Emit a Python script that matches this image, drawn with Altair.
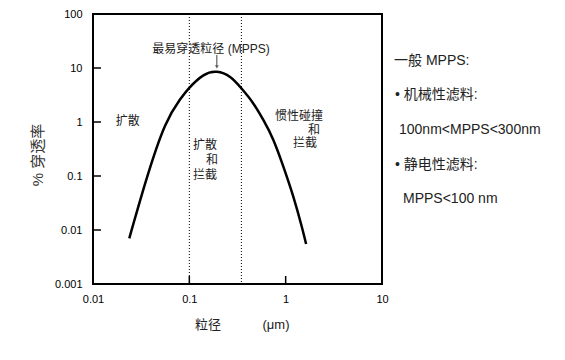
import altair as alt
import pandas as pd

# ---- data ----
size_um = [0.0238, 0.0361, 0.056, 0.080, 0.1, 0.14, 0.193, 0.265, 0.347,
           0.45, 0.586, 0.745, 0.946, 1.20, 1.47, 1.63]
penetration = [0.0070, 0.09, 0.85, 2.6, 4.3, 7.3, 8.5, 6.8, 4.2,
               2.35, 1.09, 0.464, 0.149, 0.0414, 0.0115, 0.0055]

region_bounds = [0.1, 0.347]
x_ticks = [0.01, 0.1, 1, 10]
y_ticks = [0.001, 0.01, 0.1, 1, 10, 100]
x_inner_ticks = [0.1, 1]
y_inner_ticks = [0.01, 0.1, 1, 10]

ann_text = ["扩散", "扩散", "和", "拦截", "惯性碰撞", "和", "拦截", "最易穿透粒径 (MPPS)"]
ann_x = [0.023, 0.109, 0.199, 0.109, 0.776, 1.71, 1.19, 0.168]
ann_y = [1.05, 0.375, 0.198, 0.105, 1.29, 0.72, 0.41, 22.5]
ann_align = ["center", "left", "right", "left", "left", "left", "left", "center"]

arrow_x = [0.193]
arrow_top = [17.4]
arrow_tip = [10.4]

note_lines = ["一般 MPPS:", "• 机械性滤料:", "100nm<MPPS<300nm", "• 静电性滤料:", "MPPS<100 nm"]
note_dx = [301, 302, 306, 302, 310]
note_dy = [47, 81, 116, 151, 185]

FONT = "Liberation Sans, Arial, Noto Sans CJK SC"
W, H = 289, 270

curve_df = pd.DataFrame({"x": size_um, "y": penetration})
xs = alt.Scale(type="log", domain=[0.01, 10], nice=False)
ys = alt.Scale(type="log", domain=[0.001, 100], nice=False)

base_x = alt.X("x:Q", scale=xs,
               axis=alt.Axis(values=x_ticks, format="~g", title=None, ticks=False,
                             domain=False, grid=False, labelPadding=9, labelFlush=False,
                             labelFontSize=11, labelFont=FONT, labelColor="#000"))
base_y = alt.Y("y:Q", scale=ys,
               axis=alt.Axis(values=y_ticks, format="~g", title=None, ticks=False,
                             domain=False, grid=False, labelPadding=11, labelFlush=False,
                             labelFontSize=11, labelFont=FONT, labelColor="#000"))

curve = alt.Chart(curve_df).mark_line(color="black", strokeWidth=2.5,
                                      interpolate="natural").encode(x=base_x, y=base_y)

bounds = alt.Chart(pd.DataFrame({"x": region_bounds})).mark_rule(
    color="black", strokeWidth=1, strokeDash=[1, 2]).encode(x=alt.X("x:Q", scale=xs))

xt = alt.Chart(pd.DataFrame({"x": x_inner_ticks})).mark_rule(
    color="black", strokeWidth=1.5).encode(
    x=alt.X("x:Q", scale=xs), y=alt.value(H), y2=alt.value(H - 8))

yt = alt.Chart(pd.DataFrame({"y": y_inner_ticks})).mark_rule(
    color="black", strokeWidth=1.5).encode(
    y=alt.Y("y:Q", scale=ys), x=alt.value(0), x2=alt.value(8))

ann_df = pd.DataFrame({"t": ann_text, "x": ann_x, "y": ann_y, "a": ann_align})
ann_layers = []
for al in ["left", "center", "right"]:
    sub = ann_df[ann_df["a"] == al]
    ann_layers.append(
        alt.Chart(sub).mark_text(align=al, baseline="middle", fontSize=12,
                                 font=FONT, color="#222").encode(
            x=alt.X("x:Q", scale=xs), y=alt.Y("y:Q", scale=ys), text="t:N"))

arrow_df = pd.DataFrame({"x": arrow_x, "y": arrow_top, "y2": arrow_tip})
arrow = alt.Chart(arrow_df).mark_rule(color="#444", strokeWidth=1).encode(
    x=alt.X("x:Q", scale=xs), y=alt.Y("y:Q", scale=ys), y2="y2:Q")
head = alt.Chart(arrow_df).mark_point(shape="triangle-down", filled=True, color="#444",
                                      size=16).encode(
    x=alt.X("x:Q", scale=xs), y=alt.Y("y2:Q", scale=ys))

notes_df = pd.DataFrame({"t": note_lines, "dx": note_dx, "dy": note_dy})
notes = alt.Chart(notes_df).mark_text(align="left", baseline="middle", fontSize=14,
                                      font=FONT, color="#222").encode(
    x=alt.X("dx:Q", scale=None), y=alt.Y("dy:Q", scale=None), text="t:N")

xtitle_df = pd.DataFrame({"t": ["粒径", "(μm)"], "dx": [115, 183], "dy": [311, 311]})
xtitle = alt.Chart(xtitle_df).mark_text(align="center", baseline="middle", fontSize=13,
                                        font=FONT, color="#222").encode(
    x=alt.X("dx:Q", scale=None), y=alt.Y("dy:Q", scale=None), text="t:N")

ytitle_df = pd.DataFrame({"t": ["% 穿透率"], "dx": [-55], "dy": [141]})
ytitle = alt.Chart(ytitle_df).mark_text(align="center", baseline="middle", fontSize=15,
                                        angle=270, font=FONT, color="#333").encode(
    x=alt.X("dx:Q", scale=None), y=alt.Y("dy:Q", scale=None), text="t:N")

chart = alt.layer(curve, bounds, xt, yt, *ann_layers, arrow, head, notes, xtitle, ytitle).properties(
    width=W, height=H,
    autosize=alt.AutoSizeParams(type="none"),
    padding={"left": 85, "top": 6, "right": 175, "bottom": 68},
    background="white",
).configure_view(stroke="black", strokeWidth=2)

chart.save("out.html", embed_options={"renderer": "svg", "actions": False})
